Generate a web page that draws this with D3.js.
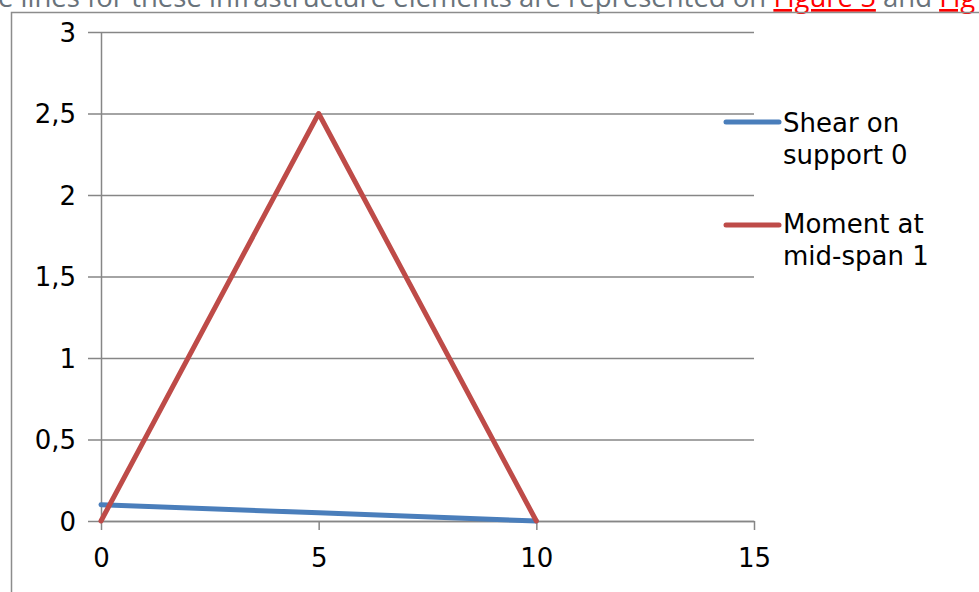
<!DOCTYPE html>
<html><head><meta charset="utf-8">
<script src="https://cdn.jsdelivr.net/npm/d3@7"></script>
<style>body{margin:0;background:#fff;overflow:hidden}svg{display:block}</style>
</head><body>
<svg id="c" width="979" height="592"></svg>
<script>
const xValues = [0, 5, 10];
const shearValues = [0.1, 0.05, 0];
const momentValues = [0, 2.5, 0];
const seriesNames = ["Shear on support 0", "Moment at mid-span 1"];
const legendLines = [["Shear on", "support 0"], ["Moment at", "mid-span 1"]];
const seriesColors = ["#4a7ebb", "#be4b48"];
const xTicks = [0, 5, 10, 15];
const yTicks = [0, 0.5, 1, 1.5, 2, 2.5, 3];
const captionParts = [
  {t: "e lines for these infrastructure elements are represented on ", link: false},
  {t: "Figure 5", link: true},
  {t: " and ", link: false},
  {t: "Fig", link: true}
];

const svg = d3.select("#c");
const fmt = d => String(d).replace(".", ",");

// caption text (cut at top)
const cap = svg.append("text").attr("x", -2).attr("y", 7)
  .attr("font-family", "'Open Sans', sans-serif").attr("font-size", 27.5).attr("fill", "#69737b");
captionParts.forEach(p => {
  cap.append("tspan").text(p.t).attr("fill", p.link ? "#ff0000" : "#69737b")
    .attr("text-decoration", p.link ? "underline" : null);
});

// outer frame
svg.append("path").attr("d", "M11.5,600 V12.5 H990").attr("fill", "none")
  .attr("stroke", "#8c8c8c").attr("stroke-width", 1.5);

const x = d3.scaleLinear().domain([0, 15]).range([101, 754]);
const y = d3.scaleLinear().domain([0, 3]).range([521, 32]);
const font = "'DejaVu Sans', Verdana, sans-serif";
const fs = 26;

// gridlines + y axis
const yAxis = d3.axisLeft(y).tickValues(yTicks).tickFormat(fmt)
  .tickSize(-(x(15) - x(0))).tickPadding(13).tickSizeOuter(0);
const gy = svg.append("g").attr("transform", `translate(${x(0)},0)`).call(yAxis);
gy.select(".domain").attr("stroke", "#868686").attr("stroke-width", 1.5);
gy.selectAll(".tick line").attr("stroke", "#868686").attr("stroke-width", 1.5)
  .attr("x1", -13);
gy.selectAll(".tick text").attr("font-family", font).attr("font-size", fs)
  .attr("fill", "#000").attr("x", -25).attr("dy", "0.36em");

// x axis
const xAxis = d3.axisBottom(x).tickValues(xTicks).tickFormat(fmt).tickSize(9).tickSizeOuter(0);
const gx = svg.append("g").attr("transform", `translate(0,${y(0)})`).call(xAxis);
gx.select(".domain").attr("stroke", "#868686").attr("stroke-width", 1.5);
gx.selectAll(".tick line").attr("stroke", "#868686").attr("stroke-width", 1.5);
gx.selectAll(".tick text").attr("font-family", font).attr("font-size", fs)
  .attr("fill", "#000").attr("y", 46).attr("dy", 0);

// lines
const line = d3.line().x((d, i) => x(xValues[i])).y(d => y(d));
[shearValues, momentValues].forEach((vals, k) => {
  svg.append("path").datum(vals).attr("d", line).attr("fill", "none")
    .attr("stroke", seriesColors[k]).attr("stroke-width", 5)
    .attr("stroke-linejoin", "round").attr("stroke-linecap", "round");
});

// legend
const legY = [122, 225];
const legBase = [132, 233];
legendLines.forEach((lines, k) => {
  svg.append("line").attr("x1", 726).attr("x2", 779).attr("y1", legY[k]).attr("y2", legY[k])
    .attr("stroke", seriesColors[k]).attr("stroke-width", 5).attr("stroke-linecap", "round");
  const t = svg.append("text").attr("x", 783).attr("y", legBase[k])
    .attr("font-family", font).attr("font-size", fs).attr("fill", "#000");
  lines.forEach((l, i) => t.append("tspan").attr("x", 783).attr("dy", i ? 32 : 0).text(l));
});
</script>
</body></html>
